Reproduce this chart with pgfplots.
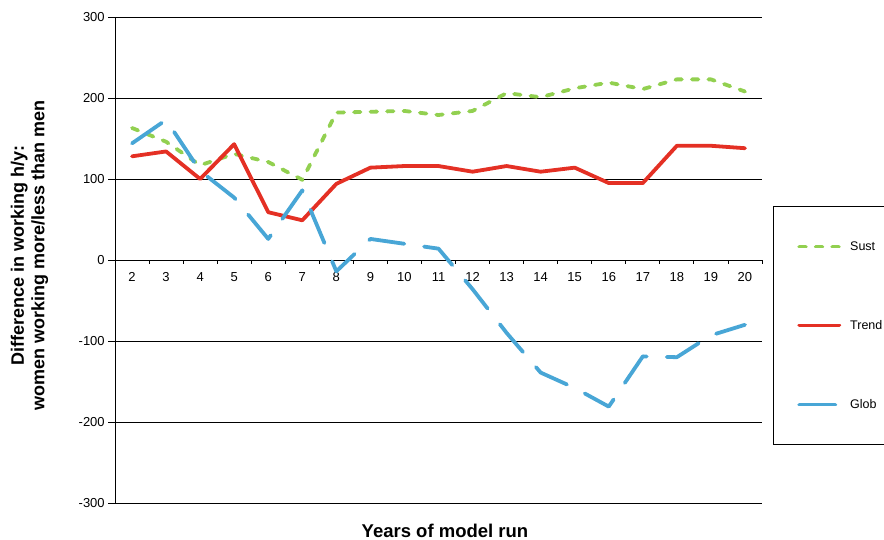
\documentclass[border=0pt]{standalone}
\usepackage{pgfplots}
\pgfplotsset{compat=1.18}
\usepackage{fontspec}
\setmainfont{Liberation Sans}
\definecolor{sust}{RGB}{146,208,80}
\definecolor{trend}{RGB}{228,48,36}
\definecolor{glob}{RGB}{72,166,214}
\begin{document}
\begin{tikzpicture}
\useasboundingbox (0,0) rectangle (884pt,540pt);
\begin{axis}[
  at={(115pt,37pt)}, anchor=south west,
  scale only axis, width=647pt, height=486pt,
  xmin=1.5, xmax=20.5, ymin=-300, ymax=300,
  axis y line=left, axis x line=middle,
  axis line style={-, black, line width=0.9pt},
  hide obscured x ticks=false, hide obscured y ticks=false,
  xtick={1.5,2.5,...,20.5}, x tick label as interval,
  xticklabels={2,3,4,5,6,7,8,9,10,11,12,13,14,15,16,17,18,19,20},
  ytick={-300,-200,-100,0,100,200,300},
  yticklabels={-300,-200,-100,0,100,200,300},
  tick align=outside,
  xtick style={black, line width=0.8pt, /pgfplots/major tick length=4pt},
  ytick style={black, line width=0.8pt, /pgfplots/major tick length=7pt},
  ymajorgrids, grid style={black, line width=0.9pt},
  ticklabel style={font=\fontsize{13}{15}\selectfont},
  xticklabel style={yshift=-4.5pt},
  yticklabel style={xshift=-2.5pt},
  /pgf/number format/assume math mode=true,
  xlabel={Years of model run},
  xlabel style={font=\bfseries\fontsize{18.5}{21}\selectfont, at={(axis description cs:0.51,-0.058)}, anchor=center},
  ylabel={Difference in working h/y:\\women working more/less than men},
  ylabel style={align=center, font=\bfseries\fontsize{18}{20.5}\selectfont, at={(axis description cs:-0.132,0.51)}, anchor=center},
  legend style={at={(1.017,0.611)}, anchor=north west, draw=black, line width=0.8pt,
    font=\fontsize{12.5}{14}\selectfont, inner xsep=24pt, inner ysep=35pt,
    row sep=68.5pt, column sep=9pt, nodes={inner sep=0pt}},
  legend cell align=left,
  legend image code/.code={\draw[#1, line cap=round] (0pt,0pt) -- (40pt,0pt);},
  every axis plot/.append style={line width=3.8pt, line cap=round, line join=round},
]
\addplot[sust, dash pattern=on 6.5pt off 10pt] coordinates {
(2,163)(3,146)(4,117)(5,131)(6,121)(7,99)(8,182)(9,183)(10,184)(11,179)
(12,184)(13,206)(14,201)(15,212)(16,219)(17,211)(18,223)(19,223)(20,208)};
\addlegendentry{Sust}
\addplot[trend] coordinates {
(2,128)(3,134)(4,100)(5,143)(6,59)(7,49)(8,94)(9,114)(10,116)(11,116)
(12,109)(13,116)(14,109)(15,114)(16,95)(17,95)(18,141)(19,141)(20,138)};
\addlegendentry{Trend}
\addplot[glob, dash pattern=on 36pt off 20pt] coordinates {
(2,144)(3,173)(4,110)(5,77)(6,26)(7,86)(8,-14)(9,26)(10,20)(11,14)
(12,-36)(13,-90)(14,-139)(15,-158)(16,-181)(17,-119)(18,-120)(19,-93)(20,-80)};
\addlegendentry{Glob}
\end{axis}
\end{tikzpicture}
\end{document}
